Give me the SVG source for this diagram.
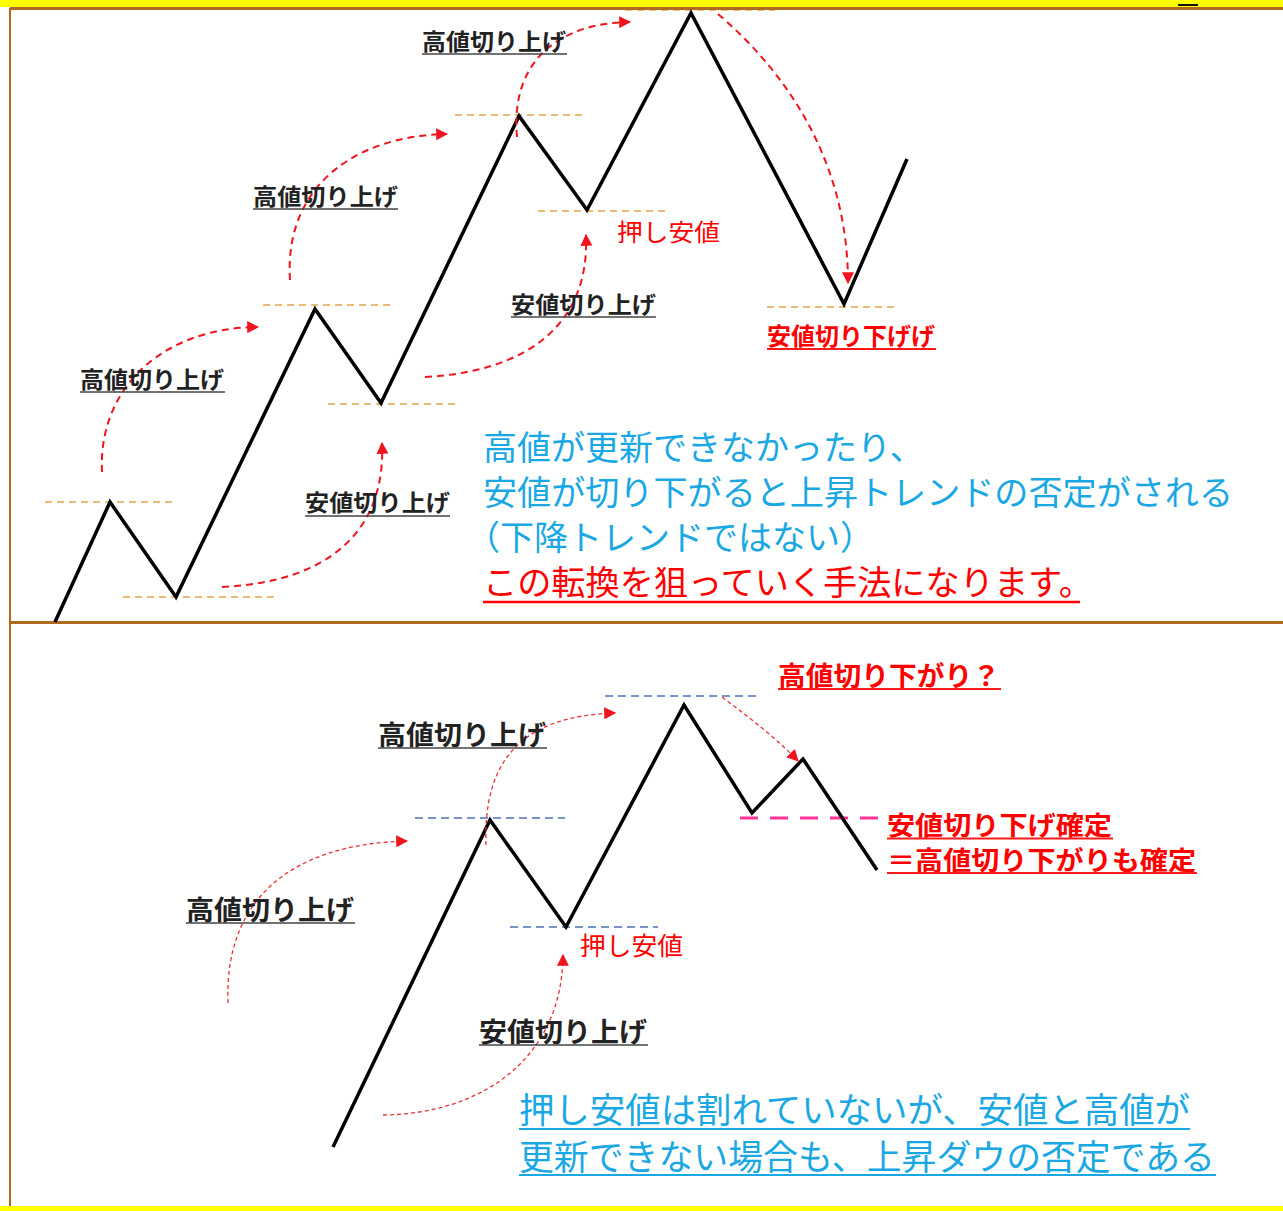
<svg xmlns="http://www.w3.org/2000/svg" width="1283" height="1211" viewBox="0 0 1283 1211">
<style>
.zig{fill:none;stroke:#000;stroke-width:3.5;stroke-linejoin:miter}
.org{stroke:#E3A54E;stroke-width:1.6;stroke-dasharray:7 5;fill:none}
.blu{stroke:#4A72B8;stroke-width:1.6;stroke-dasharray:8 5;fill:none}
.arr{fill:none;stroke:#F0141E;stroke-width:2;stroke-dasharray:7 5}
.arr2{fill:none;stroke:#E8303A;stroke-width:1.3;stroke-dasharray:4 3}
.lbl{font-family:"Noto Sans CJK JP","Noto Sans",sans-serif;font-weight:700;fill:#222}
.red{font-family:"Noto Sans CJK JP","Noto Sans",sans-serif;fill:#FF0000}
.bluet{font-family:"Noto Sans CJK JP","Noto Sans",sans-serif;fill:#1AA8E4}
.ul{stroke:#444;stroke-width:1.6}
.ulr{stroke:#FF1A1A;stroke-width:1.8}
.ulb{stroke:#1AA8E4;stroke-width:2}
</style>
<defs>
<marker id="ah" viewBox="0 0 10 10" refX="9" refY="5" markerWidth="12" markerHeight="12" markerUnits="userSpaceOnUse" orient="auto">
<path d="M0,0 L10,5 L0,10 z" fill="#F0141E"/>
</marker>
<marker id="ah2" viewBox="0 0 10 10" refX="9" refY="5" markerWidth="12" markerHeight="12" markerUnits="userSpaceOnUse" orient="auto">
<path d="M0,0 L10,5 L0,10 z" fill="#F0141E"/>
</marker>
</defs>
<rect x="0" y="0" width="1283" height="1211" fill="#fff"/>
<g id="frame">
<line class="org" x1="625" y1="10" x2="775" y2="10"/>
<rect x="0" y="0" width="1283" height="7" fill="#FFFF00"/>
<rect x="0" y="1206" width="1283" height="5" fill="#FFFF00"/>
<line x1="10" y1="8.5" x2="1283" y2="8.5" stroke="#B06A1E" stroke-width="3"/>
<line x1="10" y1="8" x2="10" y2="1206" stroke="#B06A1E" stroke-width="2"/>
<line x1="10" y1="622.5" x2="1283" y2="622.5" stroke="#B06A1E" stroke-width="3"/>
<rect x="1178" y="4" width="20" height="2" fill="#111"/>
</g>
<g id="levels">
<line class="org" x1="45" y1="502" x2="177" y2="502"/>
<line class="org" x1="123" y1="597" x2="275" y2="597"/>
<line class="org" x1="263" y1="305" x2="393" y2="305"/>
<line class="org" x1="328" y1="404" x2="458" y2="404"/>
<line class="org" x1="455" y1="115" x2="585" y2="115"/>
<line class="org" x1="538" y1="211" x2="670" y2="211"/>
<line class="org" x1="767" y1="307" x2="897" y2="307"/>
<line class="blu" x1="415" y1="818" x2="565" y2="818"/>
<line class="blu" x1="510" y1="927" x2="658" y2="927"/>
<line class="blu" x1="605" y1="696" x2="757" y2="696"/>
<line x1="740" y1="818" x2="892" y2="818" stroke="#FF3399" stroke-width="3" stroke-dasharray="18 12"/>
</g>
<g id="chart-top">
<polyline class="zig" points="55,622 110,502 176,597 315,309 381,403 519,116 587,210 691,13 844,304 907,159"/>
</g>
<g id="chart-bottom">
<polyline class="zig" points="333,1147 490,820 566,927 684,705 752,813 803,759 877,870"/>
</g>
<g id="connectors">
<path class="arr" d="M102,472 C98,390 160,328 258,327" marker-end="url(#ah)"/>
<path class="arr" d="M290,280 C284,190 350,136 447,134" marker-end="url(#ah)"/>
<path class="arr" d="M517,137 C510,60 560,23 630,22" marker-end="url(#ah)"/>
<path class="arr" d="M222,587 C330,582 386,530 382,443" marker-end="url(#ah)"/>
<path class="arr" d="M425,377 C520,372 590,330 586,235" marker-end="url(#ah)"/>
<path class="arr" d="M718,14 C795,80 848,170 848,283" marker-end="url(#ah)"/>
<path class="arr2" d="M228,1003 C224,900 290,844 407,841" marker-end="url(#ah2)"/>
<path class="arr2" d="M486,845 C483,760 522,716 615,713" marker-end="url(#ah2)"/>
<path class="arr2" d="M383,1115 C480,1114 562,1060 563,955" marker-end="url(#ah2)"/>
<path class="arr2" d="M722,697 C750,718 776,738 798,761" marker-end="url(#ah2)"/>
</g>
<g id="label-h1"><text class="lbl" x="80" y="388" font-size="23" textLength="144" lengthAdjust="spacingAndGlyphs">高値切り上げ</text><line class="ul" x1="80" y1="392" x2="225" y2="392"/></g>
<g id="label-h2"><text class="lbl" x="253" y="205" font-size="23" textLength="145" lengthAdjust="spacingAndGlyphs">高値切り上げ</text><line class="ul" x1="253" y1="209" x2="398" y2="209"/></g>
<g id="label-h3"><text class="lbl" x="422" y="50" font-size="23" textLength="144" lengthAdjust="spacingAndGlyphs">高値切り上げ</text><line class="ul" x1="422" y1="54" x2="567" y2="54"/></g>
<g id="label-l1"><text class="lbl" x="305" y="511" font-size="23" textLength="145" lengthAdjust="spacingAndGlyphs">安値切り上げ</text><line class="ul" x1="305" y1="516" x2="450" y2="516"/></g>
<g id="label-l2"><text class="lbl" x="511" y="313" font-size="23" textLength="145" lengthAdjust="spacingAndGlyphs">安値切り上げ</text><line class="ul" x1="511" y1="317" x2="656" y2="317"/></g>
<g id="label-oshi1"><text class="red" x="617" y="241" font-size="24" textLength="103" lengthAdjust="spacingAndGlyphs">押し安値</text></g>
<g id="label-down1"><text class="red" x="767" y="345" font-size="24" font-weight="700" textLength="168" lengthAdjust="spacingAndGlyphs">安値切り下げげ</text><line class="ulr" x1="767" y1="349" x2="936" y2="349"/></g>
<g id="note-top">
<text class="bluet" x="483" y="460" font-size="34">高値が更新できなかったり、</text>
<text class="bluet" x="483" y="505" font-size="34" textLength="750" lengthAdjust="spacingAndGlyphs">安値が切り下がると上昇トレンドの否定がされる</text>
<text class="bluet" x="466" y="550" font-size="34">（下降トレンドではない）</text>
<text class="red" x="483" y="595" font-size="34" textLength="610" lengthAdjust="spacingAndGlyphs">この転換を狙っていく手法になります。</text>
<line x1="483" y1="602" x2="1080" y2="602" stroke="#FF0000" stroke-width="2.5"/>
</g>
<g id="label-bh1"><text class="lbl" x="378" y="745" font-size="27" textLength="168" lengthAdjust="spacingAndGlyphs">高値切り上げ</text><line class="ul" x1="378" y1="748" x2="547" y2="748"/></g>
<g id="label-bh2"><text class="lbl" x="186" y="920" font-size="27" textLength="168" lengthAdjust="spacingAndGlyphs">高値切り上げ</text><line class="ul" x1="186" y1="923" x2="355" y2="923"/></g>
<g id="label-bl1"><text class="lbl" x="479" y="1042" font-size="27" textLength="168" lengthAdjust="spacingAndGlyphs">安値切り上げ</text><line class="ul" x1="479" y1="1045" x2="648" y2="1045"/></g>
<g id="label-oshi2"><text class="red" x="580" y="955" font-size="25" textLength="103" lengthAdjust="spacingAndGlyphs">押し安値</text></g>
<g id="label-hdown"><text class="red" x="778" y="686" font-size="27" font-weight="700" textLength="222" lengthAdjust="spacingAndGlyphs">高値切り下がり？</text><line class="ulr" x1="778" y1="689" x2="1001" y2="689"/></g>
<g id="label-confirm"><text class="red" x="887" y="835" font-size="26" font-weight="700" textLength="225" lengthAdjust="spacingAndGlyphs">安値切り下げ確定</text><line class="ulr" x1="887" y1="838.5" x2="1113" y2="838.5"/>
<text class="red" x="887" y="870" font-size="26" font-weight="700" textLength="309" lengthAdjust="spacingAndGlyphs">＝高値切り下がりも確定</text><line class="ulr" x1="887" y1="873" x2="1197" y2="873"/></g>
<g id="note-bottom">
<text class="bluet" x="519" y="1123" font-size="35" textLength="671" lengthAdjust="spacingAndGlyphs">押し安値は割れていないが、安値と高値が</text>
<line class="ulb" x1="519" y1="1129" x2="1190" y2="1129"/>
<text class="bluet" x="519" y="1170" font-size="35" textLength="696" lengthAdjust="spacingAndGlyphs">更新できない場合も、上昇ダウの否定である</text>
<line class="ulb" x1="519" y1="1175" x2="1216" y2="1175"/>
</g>
</svg>
